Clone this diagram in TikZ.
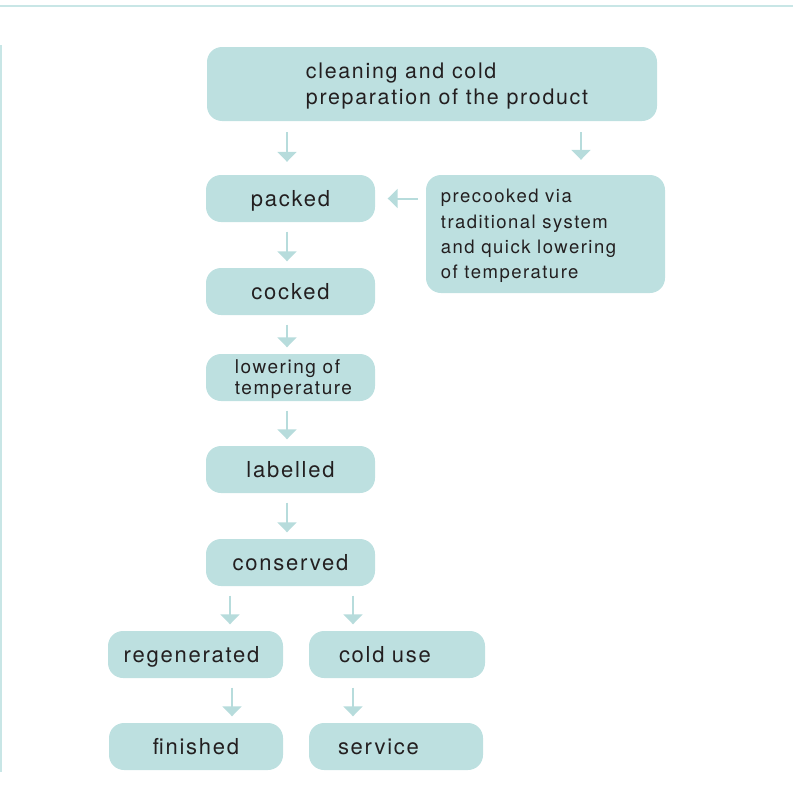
\documentclass[tikz,border=0pt]{standalone}
\usepackage{fontspec}
\setmainfont{TeX Gyre Heros}[LetterSpace=8]
\usetikzlibrary{positioning}
\usetikzlibrary{arrows.meta,calc}
\newcommand{\BoxRound}{15pt}
\newcommand{\BoxHeight}{47pt}
\newcommand{\ColWidth}{169pt}
\newcommand{\TipWidth}{19pt}
\newcommand{\TipLength}{10pt}
\newcommand{\FlowThick}{2pt}
\newcommand{\RuleThick}{1.5pt}
\definecolor{TextBlack}{RGB}{35, 31, 32}
\definecolor{BoxTeal}{RGB}{189, 224, 224}
\definecolor{ArrowTeal}{RGB}{183, 220, 220}
\definecolor{RuleTeal}{RGB}{200, 230, 230}

\begin{document}
\begin{tikzpicture}[x=1pt,y=-1pt]
  \tikzstyle{every node}=[font=\fontsize{22}{26}\selectfont, text=TextBlack]
  \tikzstyle{stage}=[fill=BoxTeal, rounded corners=\BoxRound, minimum width=\ColWidth, minimum height=\BoxHeight, inner sep=0pt, text depth=0pt, align=left]
  \tikzstyle{flow}=[ArrowTeal, line width=\FlowThick, -{Triangle[width=\TipWidth,length=\TipLength]}, shorten <=9.5pt, shorten >=6.5pt]
  \useasboundingbox (0,0) rectangle (793,811);

  % Page rules
  \draw[RuleTeal, line width=\RuleThick] (0,6) -- (793,6);
  \draw[RuleTeal, line width=\RuleThick] (0.75,45) -- (0.75,772);

  % Stages
  \node[stage, minimum width=450pt, minimum height=74pt, text depth=-1pt, font=\fontsize{21.4}{26}\selectfont] (prep) at (432,84) {\hspace*{30pt}cleaning and cold\\\hspace*{30pt}preparation of the product};
  \node[stage, minimum width=239pt, minimum height=118pt, text depth=-1pt, font=\fontsize{18.5}{25.3}\selectfont] (precook) at (545.5,234) {precooked via\\traditional system\\and quick lowering\rule{34pt}{0pt}\\of temperature};
  \node[stage] (packed) at (290.5,198.5) {packed};
  \node[stage] (cocked) at (290.5,291.5) {cocked};
  \node[stage, text depth=-1pt, font=\fontsize{19}{21}\selectfont] (lowering) at (290.5,377.5) {\hspace*{6pt}lowering of\\\hspace*{6pt}temperature};
  \node[stage] (labelled) at (290.5,469.5) {labelled};
  \node[stage] (conserved) at (290.5,562.5) {conserved};

  % Two ways out
  \node[stage, minimum width=175pt] (regen) at (195.5,654.5) {regenerated\rule{8pt}{0pt}};
  \node[stage, minimum width=176pt, text width=116pt] (coldUse) at (397,654.5) {cold use};
  \node[stage, minimum width=174pt] (finished) at (196,746.5) {finished};
  \node[stage, minimum width=174pt, text width=116pt] (service) at (396,746.5) {service};

  % Arrow columns
  \coordinate (mainArrow) at (287,0);
  \coordinate (rightArrow) at (581,0);
  \coordinate (regenIn) at (230,0);
  \coordinate (finishIn) at (232,0);
  \coordinate (coldArrow) at (353,0);

  % Arrows
  \draw[flow, shorten <=11pt, shorten >=13pt] (prep.south -| mainArrow) -- (packed.north -| mainArrow);
  \draw[flow, shorten <=11pt, shorten >=15pt] (prep.south -| rightArrow) -- (precook.north -| rightArrow);
  \draw[flow, shorten <=8pt, shorten >=12.5pt] (precook.west |- packed.east) -- (packed.east);
  \foreach \a/\b in {packed/cocked, cocked/lowering, lowering/labelled, labelled/conserved}
    \draw[flow] (\a.south -| mainArrow) -- (\b.north -| mainArrow);
  \draw[flow] (conserved.south -| regenIn) -- (regen.north -| regenIn);
  \draw[flow] (conserved.south -| coldArrow) -- (coldUse.north -| coldArrow);
  \draw[flow] (regen.south -| finishIn) -- (finished.north -| finishIn);
  \draw[flow] (coldUse.south -| coldArrow) -- (service.north -| coldArrow);
\end{tikzpicture}
\end{document}
